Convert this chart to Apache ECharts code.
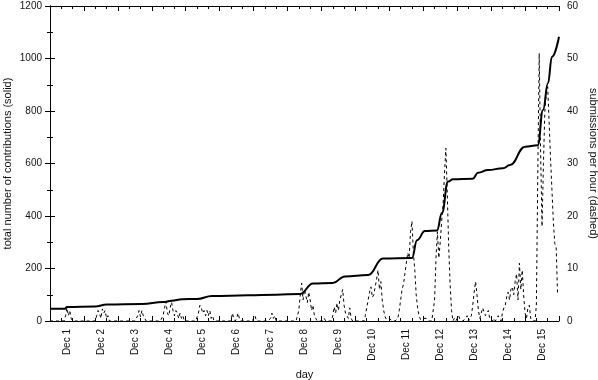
<!DOCTYPE html>
<html>
<head>
<meta charset="utf-8">
<script src="https://cdn.jsdelivr.net/npm/echarts@6/dist/echarts.min.js"></script>
<style>html,body{margin:0;padding:0;background:#fff}#c{width:598px;height:380px}</style>
</head>
<body>
<div id="c"></div>
<script>
// Tick labels (one per day, placed at noon)
const dayLabels = ['Dec 1','Dec 2','Dec 3','Dec 4','Dec 5','Dec 6','Dec 7','Dec 8','Dec 9','Dec 10','Dec 11','Dec 12','Dec 13','Dec 14','Dec 15'];

// Cumulative contributions (solid): hour since Dec 1 00:00 and total
const cumHours  = [0, 10.6, 12, 31.8, 40.3, 65, 80, 86, 93.4, 104, 114.6, 140, 160, 176.8, 186, 200, 208.6, 225, 235.5, 256, 259.6, 265.2, 273.7, 277.2, 281.5, 285, 299, 302.7, 309.8, 320.4, 325.3, 336, 345, 348.7, 352.2, 355, 360];
const cumValues = [47, 47, 53, 55, 63, 65, 72, 77, 83, 84, 95, 98, 100, 103, 143, 145, 170, 175, 238, 240, 308, 343, 345, 411, 531, 540, 542, 565, 575, 582, 594, 664, 670, 804, 906, 1007, 1083];

// Submissions per hour (dashed), one array per day, 24 hourly values each
const dec1  = [0,0,0,0,0,0,0,0,0,0,0,1,2.5,1,2,0.5,0,0,0,0,0,0,0,0];
const dec2  = [0,0,0,0,0,0,0,0,0,1,2,1.5,0.5,2.3,1.5,2,0.5,1,0,0,0,0,0,0];
const dec3  = [0,0,0,0,0,0,0,0,0,0,0,0,0,0,1,2,0.8,2,1,0.5,0,0,0,0];
const dec4  = [0,0,0,0,0,0,0,0,1,2.5,3.7,1.5,1,2.5,3.6,2,1,2,1.5,0.5,1.5,0.5,1,0];
const dec5  = [0,0,0,0,0,0,0,0,0,1.5,3,2.5,1.5,2,1,2,1,2,0.5,1,0,0,0,0];
const dec6  = [0,0,0,0,0,0,0,0,0,1.5,0.5,0,0.5,1.5,0.5,0,0,0,0,0,0,0,0,0];
const dec7  = [0,1,0,0,0,0,0,0,0,0,0,0,0.5,1.5,0.5,1,0,0,0,0,0,0,0,0];
const dec8  = [0,0,0,0,0,0,0,0,2,5,7.2,4,6,6.3,3.5,5.5,4,2,3,1,0.5,0,0,0];
const dec9  = [0,0,0.5,0,0,0,0,0,1,2.7,1.5,3.4,2,4,5,6,3,1.5,1,0.5,2.5,0.5,0,0];
const dec10 = [0,0,0,0,0,0,0,1,2.5,4,5.5,6.5,4.5,5,6.5,8,9.7,6,7.5,4,2,0.8,0.3,0];
const dec11 = [0.5,0.3,0,0,0,0,0.5,2,4,6,7,9,11,13,12,17,19,13,9.7,5,2.5,1,0.3,0.5];
const dec12 = [0.5,0.3,0.5,0.3,0,0,0,0,4,12,17,12,15,19,22,28,32.9,24,14,7,2,0,0.5,0];
const dec13 = [0.5,1,0.3,0,0,0,0.5,1,0,0.5,1,3,5.5,7.5,5,2,0.5,1.5,2.5,2.7,1,1.5,2,0.5];
const dec14 = [0.3,0,0.5,0,0.5,1,0.8,0,1.5,2.5,3,4.6,5.5,4,6,6.5,5,7.5,9,4,11,6,9.7,5];
const dec15 = [1.5,0.5,2.5,3,0.5,0,0.3,0,3,28,51,32,18,30,40,43.4,44.6,38,31,25,19,14.8,14,5];

const hourly = [].concat(dec1,dec2,dec3,dec4,dec5,dec6,dec7,dec8,dec9,dec10,dec11,dec12,dec13,dec14,dec15);

const FONT = 'Liberation Sans';
const TXT = '#111';
const axisLine = {show:true, lineStyle:{color:'#000', width:1}};
const tick = {show: true, inside: true, length: 5, lineStyle:{color:'#000'}};

const chart = echarts.init(document.getElementById('c'), null, {renderer:'canvas'});
chart.setOption({
  animation: false,
  backgroundColor: '#fff',
  textStyle: {fontFamily: FONT},
  grid: {left: 50, right: 39, top: 6, bottom: 59, containLabel: false, outerBoundsMode: 'none'},
  xAxis: [
    {
      type: 'value', min: 0, max: 360, interval: 24, position: 'bottom',
      axisLine: axisLine, axisTick: tick,
      minorTick: {show: true, splitNumber: 3, length: 3, lineStyle:{color:'#000'}},
      axisLabel: {show: false},
      splitLine: {show: false},
      name: 'day', nameLocation: 'middle', nameGap: 48, nameMoveOverlap: false,
      nameTextStyle: {fontFamily: FONT, fontSize: 11, color: TXT}
    },
    {
      type: 'value', min: 0, max: 360, interval: 12, position: 'bottom',
      axisLine: {show: false}, axisTick: {show: false}, splitLine: {show: false},
      axisLabel: {
        show: true, rotate: 90, margin: 8, fontFamily: FONT, fontSize: 10, color: TXT,
        formatter: function (v) { return (v % 24 === 12) ? dayLabels[(v - 12) / 24] : ''; }
      }
    },
    {
      type: 'value', min: 0, max: 360, interval: 24, position: 'top',
      axisLine: axisLine, axisTick: tick,
      minorTick: {show: true, splitNumber: 3, length: 3, lineStyle:{color:'#000'}},
      axisLabel: {show: false}, splitLine: {show: false}
    }
  ],
  yAxis: [
    {
      type: 'value', min: 0, max: 1200, interval: 200, position: 'left',
      axisLine: axisLine, axisTick: tick,
      minorTick: {show: true, splitNumber: 2, length: 3, lineStyle:{color:'#000'}},
      splitLine: {show: false},
      axisLabel: {margin: 8, fontFamily: FONT, fontSize: 10, color: TXT, formatter: function (v) { return String(v); }},
      name: 'total number of contributions (solid)', nameLocation: 'middle', nameGap: 37, nameRotate: 90,
      nameMoveOverlap: false,
      nameTextStyle: {fontFamily: FONT, fontSize: 11, color: TXT}
    },
    {
      type: 'value', min: 0, max: 60, interval: 10, position: 'right',
      axisLine: axisLine, axisTick: tick,
      minorTick: {show: true, splitNumber: 2, length: 3, lineStyle:{color:'#000'}},
      splitLine: {show: false},
      axisLabel: {margin: 8, fontFamily: FONT, fontSize: 10, color: TXT, formatter: function (v) { return String(v); }},
      name: 'submissions per hour (dashed)', nameLocation: 'middle', nameGap: 29, nameRotate: -90,
      nameMoveOverlap: false,
      nameTextStyle: {fontFamily: FONT, fontSize: 11, color: TXT}
    }
  ],
  series: [
    {
      type: 'line', xAxisIndex: 0, yAxisIndex: 1,
      data: hourly.map(function (v, i) { return [i, v]; }),
      showSymbol: false, symbol: 'none',
      lineStyle: {color: '#000', width: 1, type: [3, 3]},
      z: 3
    },
    {
      type: 'line', xAxisIndex: 0, yAxisIndex: 0,
      data: cumHours.map(function (h, i) { return [h, cumValues[i]]; }),
      showSymbol: false, symbol: 'none',
      smooth: 0.45, smoothMonotone: 'x',
      lineStyle: {color: '#000', width: 2},
      z: 4
    }
  ]
});
</script>
</body>
</html>
